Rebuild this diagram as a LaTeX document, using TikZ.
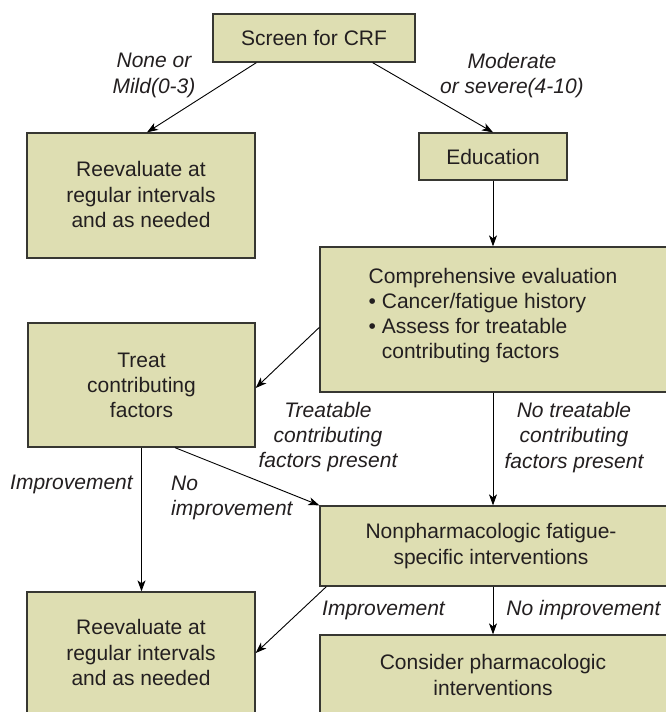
\documentclass[tikz,border=0pt]{standalone}
\usepackage{fontspec}
\setmainfont{Liberation Sans}
\usetikzlibrary{arrows.meta,calc}
\definecolor{boxfill}{RGB}{222,222,178}
\definecolor{boxline}{RGB}{55,55,50}
\definecolor{txtcol}{RGB}{35,31,32}
\begin{document}
\begin{tikzpicture}[x=1pt,y=-1pt,
  box/.style={draw=boxline,line width=1.3pt,fill=boxfill,inner sep=0pt},
  txt/.style={text=txtcol,align=center,inner sep=0pt,font=\fontsize{21}{25.2}\selectfont},
  lbl/.style={text=txtcol,align=center,inner sep=0pt,font=\fontsize{21}{25.2}\selectfont\itshape},
  arr/.style={draw=black,line width=0.9pt,-{Stealth[length=11pt,width=8pt,inset=3pt]}}
]
\useasboundingbox (0,0) rectangle (666,712);
\fill[white] (0,0) rectangle (666,712);

% boxes
\node[box,minimum width=202pt,minimum height=48pt] (screen) at (314,38) {};
\node[box,minimum width=228pt,minimum height=125pt] (reevalTop) at (141,195.5) {};
\node[box,minimum width=148pt,minimum height=47pt] (edu) at (493,156.5) {};
\node[box,minimum width=350pt,minimum height=145pt] (comp) at (495,319.5) {};
\node[box,minimum width=227pt,minimum height=124pt] (treat) at (141.5,385) {};
\node[box,minimum width=350pt,minimum height=80pt] (nonph) at (495,546) {};
\node[box,minimum width=228pt,minimum height=126pt] (reevalBot) at (141,655) {};
\node[box,minimum width=350pt,minimum height=82pt] (consider) at (495,676) {};

% box texts
\node[txt] (screenT) at (314,38.5) {Screen for CRF};
\node[txt] (reevalTopT) at (141,194.5) {Reevaluate at\\regular intervals\\and as needed};
\node[txt] (eduT) at (493,157) {Education};
\node[txt,align=left] (compT) at (493,315.5) {Comprehensive evaluation\\\textbullet\ Cancer/fatigue history\\\textbullet\ Assess for treatable\\\phantom{\textbullet\ }contributing factors};
\node[txt] (treatT) at (141.5,385.5) {Treat\\contributing\\factors};
\node[txt] (nonphT) at (491,546) {Nonpharmacologic fatigue-\\specific interventions};
\node[txt] (reevalBotT) at (141,652.5) {Reevaluate at\\regular intervals\\and as needed};
\node[txt] (considerT) at (493,675) {Consider pharmacologic\\interventions};

% labels
\node[lbl] (l1) at (154,75.5) {None or\\Mild(0-3)};
\node[lbl] (l2) at (512,75.5) {Moderate\\or severe(4-10)};
\node[lbl] (l3) at (328,437) {Treatable\\contributing\\factors present};
\node[lbl] (l4) at (574,437.5) {No treatable\\contributing\\factors present};
\node[lbl] (l5) at (71.5,484.5) {Improvement};
\node[lbl,align=left,anchor=west] (l6) at (171,498) {No\\improvement};
\node[lbl] (l7) at (383.5,610.5) {Improvement};
\node[lbl] (l8) at (583.5,610.5) {No improvement};

% connectors
\draw[arr] ($(screen.south west)+(44,0)$) -- ($(reevalTop.north)+(6,0)$);
\draw[arr] ($(screen.south east)+(-43,0)$) -- (edu.north);
\draw[arr] (edu.south) -- (edu.south |- comp.north);
\draw[arr] ($(comp.north west)+(0,81)$) -- ($(treat.east)+(0,3)$);
\draw[arr] ($(treat.south)+(33.5,0)$) -- (nonph.north west);
\draw[arr] (treat.south) -- (treat.south |- reevalBot.north);
\draw[arr] (comp.south -| edu.south) -- (nonph.north -| edu.south);
\draw[arr] ($(nonph.south west)+(7,0)$) -- ($(reevalBot.east)+(0,-2)$);
\draw[arr] (nonph.south -| edu.south) -- (consider.north -| edu.south);
\end{tikzpicture}
\end{document}
